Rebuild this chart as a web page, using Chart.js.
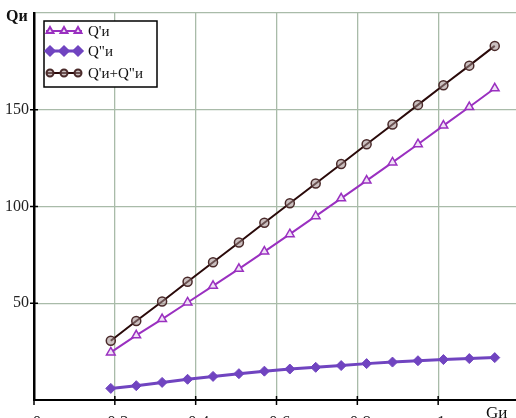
<!DOCTYPE html>
<html>
<head>
<meta charset="utf-8">
<script src="https://cdn.jsdelivr.net/npm/chart.js@4.4.0/dist/chart.umd.min.js"></script>
<style>
  html, body { margin: 0; padding: 0; overflow: hidden; background: #fff; width: 516px; height: 418px; }
  #wrap { position: absolute; left: 0; top: 0; width: 520px; height: 432px; }
</style>
</head>
<body>
<div id="wrap"><canvas id="chart" width="520" height="432"></canvas></div>
<script>
// данные
const gValues = [0.19, 0.253, 0.317, 0.38, 0.443, 0.507, 0.57, 0.633, 0.697, 0.76, 0.823, 0.887, 0.95, 1.013, 1.077, 1.14];
const qPrime  = [24.6, 33.4, 41.8, 50.4, 59.0, 67.8, 76.7, 85.7, 95.0, 104.2, 113.4, 122.8, 132.2, 141.8, 151.4, 161.1];
const qDouble = [6.0, 7.4, 9.1, 10.7, 12.2, 13.6, 14.9, 16.0, 16.9, 17.8, 18.8, 19.6, 20.3, 20.9, 21.4, 21.9];
const qSum    = [30.6, 40.8, 50.9, 61.1, 71.2, 81.4, 91.6, 101.7, 111.9, 122.0, 132.2, 142.4, 152.5, 162.7, 172.8, 183.0];
const seriesNames = ["Q'и", 'Q"и', 'Q\'и+Q"и'];
const xTicks = [0, 0.2, 0.4, 0.6, 0.8, 1];
const yTicks = [50, 100, 150];
const xTitle = 'Gи';
const yTitle = 'Qи';

const SERIF = '"Liberation Serif", "DejaVu Serif", serif';
const gridColor = '#a9bba9';

function pts(ys) {
    return gValues.map((g, i) => ({ x: g, y: ys[i] }));
}

// оси, подписи и легенда в стиле Mathcad
const decorPlugin = {
    id: 'decor',
    afterDraw(chart) {
        const ctx = chart.ctx;
        const xs = chart.scales.x;
        const ys = chart.scales.y;
        const area = chart.chartArea;
        ctx.save();

        // засечки поперёк осей
        ctx.strokeStyle = '#000';
        ctx.lineWidth = 1.5;
        yTicks.forEach(v => {
            const py = ys.getPixelForValue(v);
            ctx.beginPath();
            ctx.moveTo(area.left - 4, py);
            ctx.lineTo(area.left + 4, py);
            ctx.stroke();
        });
        xTicks.forEach(v => {
            const px = xs.getPixelForValue(v);
            ctx.beginPath();
            ctx.moveTo(px, area.bottom - 4);
            ctx.lineTo(px, area.bottom + 5);
            ctx.stroke();
        });

        // подписи осей
        ctx.fillStyle = '#111';
        ctx.font = 'bold 16px ' + SERIF;
        ctx.textAlign = 'left';
        ctx.textBaseline = 'alphabetic';
        ctx.fillText(yTitle, 6, 21);
        ctx.font = '17px ' + SERIF;
        ctx.fillText(xTitle, 486, 418);

        // легенда
        const box = { x: 44, y: 21, w: 113, h: 66 };
        ctx.fillStyle = '#fff';
        ctx.fillRect(box.x, box.y, box.w, box.h);
        ctx.strokeStyle = '#000';
        ctx.lineWidth = 1.5;
        ctx.strokeRect(box.x, box.y, box.w, box.h);
        const rows = [31, 51, 73];
        chart.data.datasets.forEach((ds, i) => {
            const y = rows[i];
            ctx.strokeStyle = ds.borderColor;
            ctx.lineWidth = ds.borderWidth;
            ctx.beginPath();
            ctx.moveTo(46, y);
            ctx.lineTo(82, y);
            ctx.stroke();
            [50, 64, 78].forEach(px => {
                ctx.strokeStyle = ds.pointBorderColor;
                ctx.fillStyle = ds.pointBackgroundColor;
                Chart.helpers.drawPoint(ctx, {
                    pointStyle: ds.pointStyle,
                    radius: ds.pointRadius - 1,
                    rotation: 0,
                    borderWidth: ds.pointBorderWidth
                }, px, y);
            });
            ctx.fillStyle = '#111';
            ctx.font = '15px ' + SERIF;
            ctx.fillText(ds.label, 88, y + 5);
        });
        ctx.restore();
    }
};

new Chart(document.getElementById('chart'), {
    type: 'line',
    data: {
        datasets: [
            {
                label: seriesNames[0],
                data: pts(qPrime),
                borderColor: '#9a30c0',
                borderWidth: 2,
                pointStyle: 'triangle',
                pointRadius: 5,
                pointBorderWidth: 1.5,
                pointBorderColor: '#9a30c0',
                pointBackgroundColor: '#efe2f5'
            },
            {
                label: seriesNames[1],
                data: pts(qDouble),
                borderColor: '#7044c0',
                borderWidth: 3,
                pointStyle: 'rectRot',
                pointRadius: 5,
                pointBorderWidth: 1,
                pointBorderColor: '#7044c0',
                pointBackgroundColor: '#7044c0'
            },
            {
                label: seriesNames[2],
                data: pts(qSum),
                borderColor: '#2a0a0a',
                borderWidth: 2,
                pointStyle: 'circle',
                pointRadius: 4.5,
                pointBorderWidth: 1.5,
                pointBorderColor: '#4a2a2a',
                pointBackgroundColor: 'rgba(160,140,140,0.55)'
            }
        ]
    },
    options: {
        responsive: false,
        animation: false,
        devicePixelRatio: 1,
        layout: { padding: { top: 13, right: 1, left: 0, bottom: 0 }, autoPadding: false },
        plugins: {
            legend: { display: false },
            tooltip: { enabled: false }
        },
        scales: {
            x: {
                type: 'linear',
                min: 0,
                max: 1.2,
                afterBuildTicks: s => { s.ticks = xTicks.concat([1.2]).map(v => ({ value: v })); },
                afterFit: s => { s.height = 32; s.paddingLeft = 0; s.paddingRight = 0; },
                grid: { color: gridColor, lineWidth: 1.3, drawTicks: false },
                border: { display: true, color: '#000', width: 2 },
                ticks: {
                    padding: 12,
                    labelOffset: 3,
                    maxRotation: 0,
                    autoSkip: false,
                    color: '#222',
                    font: { family: SERIF, size: 17 },
                    callback: v => xTicks.includes(v) ? String(v) : ''
                }
            },
            y: {
                min: 0,
                max: 200,
                afterBuildTicks: s => { s.ticks = [0].concat(yTicks, [200]).map(v => ({ value: v })); },
                afterFit: s => { s.width = 34; s.paddingTop = 0; s.paddingBottom = 0; },
                grid: { color: gridColor, lineWidth: 1.3, drawTicks: false },
                border: { display: true, color: '#000', width: 2.5 },
                ticks: {
                    padding: 5,
                    autoSkip: false,
                    color: '#222',
                    font: { family: SERIF, size: 16 },
                    callback: v => yTicks.includes(v) ? String(v) : ''
                }
            }
        }
    },
    plugins: [decorPlugin]
});
</script>
</body>
</html>
